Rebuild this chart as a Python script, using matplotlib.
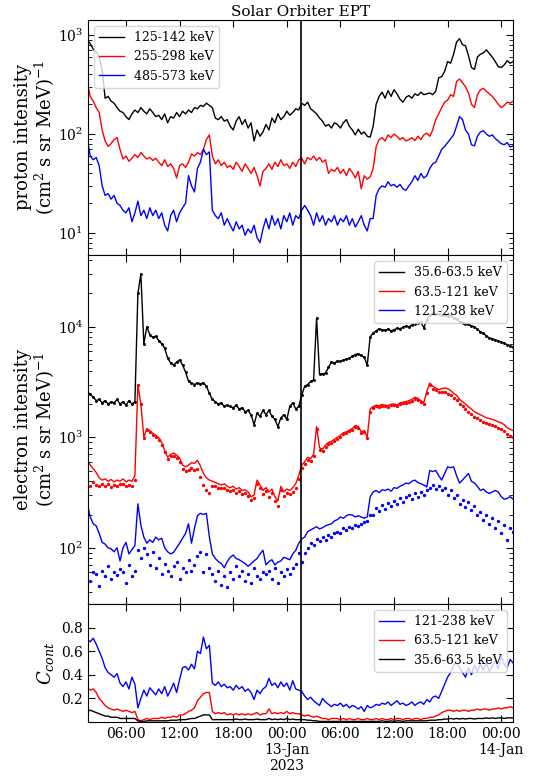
import numpy as np
import matplotlib
matplotlib.use('Agg')
import matplotlib.pyplot as plt
import matplotlib.dates as mdates
from matplotlib.ticker import LogLocator, NullFormatter, FixedLocator

plt.rcParams['font.family'] = 'serif'
plt.rcParams['font.serif'] = ['DejaVu Serif']
plt.rcParams['mathtext.fontset'] = 'dejavuserif'

# ---------------- data (20-min samples starting 2023-01-12 01:40) ----------------
t_start = '2023-01-12T01:40'
t_step_min = 20
event_time = '2023-01-13T01:35'
xlim = ('2023-01-12T01:45', '2023-01-14T01:19')

tick_times = ['2023-01-12T06:00', '2023-01-12T12:00', '2023-01-12T18:00', '2023-01-13T00:00',
              '2023-01-13T06:00', '2023-01-13T12:00', '2023-01-13T18:00', '2023-01-14T00:00']
tick_labels = ['06:00', '12:00', '18:00', '00:00\n13-Jan\n2023',
               '06:00', '12:00', '18:00', '00:00\n14-Jan']

proton_labels = ['125-142 keV', '255-298 keV', '485-573 keV']
electron_labels = ['35.6-63.5 keV', '63.5-121 keV', '121-238 keV']

p125 = [900, 820, 720, 680, 600, 450, 230, 240, 215, 205, 185, 170,
        165, 150, 140, 160, 175, 165, 185, 170, 160, 180, 165, 150,
        155, 140, 160, 130, 150, 145, 165, 150, 170, 160, 175, 165,
        185, 180, 195, 190, 205, 195, 185, 145, 140, 150, 135, 140,
        120, 110, 135, 150, 125, 140, 115, 130, 85, 110, 95, 105,
        125, 110, 145, 130, 160, 140, 150, 170, 155, 165, 180, 175,
        205, 195, 210, 180, 170, 160, 145, 135, 120, 125, 115, 130,
        125, 115, 130, 140, 120, 110, 98, 112, 100, 105, 95, 93,
        120, 200, 240, 265, 230, 275, 240, 280, 255, 225, 210, 235,
        245, 230, 255, 245, 265, 250, 255, 260, 250, 270, 370, 380,
        430, 540, 520, 640, 850, 920, 800, 780, 620, 470, 450, 600,
        640, 660, 710, 650, 600, 540, 480, 470, 500, 550, 520, 540]

p255 = [330, 240, 215, 185, 165, 110, 85, 75, 80, 88, 92, 70,
        56, 60, 53, 57, 62, 58, 65, 60, 56, 58, 54, 57,
        52, 48, 55, 47, 50, 45, 36, 48, 50, 46, 52, 63,
        60, 65, 62, 70, 88, 98, 60, 50, 55, 48, 52, 46,
        48, 44, 52, 47, 42, 50, 45, 40, 46, 38, 30, 42,
        45, 50, 44, 52, 47, 55, 48, 50, 45, 52, 47, 55,
        57, 50, 58, 55, 60, 54, 58, 52, 55, 40, 44, 42,
        46, 40, 44, 38, 45, 41, 36, 42, 28, 38, 35, 37,
        45, 75, 88, 92, 85, 98, 92, 100, 95, 88, 92, 85,
        88, 92, 86, 95, 88, 98, 102, 95, 110, 140, 160, 185,
        210, 220, 250, 240, 340, 360, 330, 300, 260, 200, 185, 250,
        280, 290, 270, 255, 240, 220, 200, 185, 195, 210, 205, 215]

p485 = [90, 60, 55, 58, 48, 30, 24, 25, 22, 24, 20, 19,
        17, 16, 18, 13, 16, 21, 15, 17, 14, 18, 15, 17,
        14, 16, 12, 10.5, 15, 17, 13, 16, 18, 20, 38, 30,
        26, 45, 52, 70, 62, 66, 17, 15, 14, 16, 12, 14,
        12, 10.5, 13, 11, 12, 9.5, 11, 10, 12, 9, 8, 11,
        14, 11, 15, 12, 14, 11, 15, 13, 16, 12, 15, 14,
        17, 19, 17, 15, 12, 16, 13, 15, 12, 14, 13, 15,
        12, 14, 13, 15, 12, 14, 11.5, 13, 15, 12, 10.5, 14,
        14, 24, 28, 30, 29, 33, 30, 31, 29, 31, 28, 27,
        30, 33, 38, 34, 40, 36, 38, 45, 50, 52, 60, 70,
        75, 82, 90, 98, 120, 150, 140, 110, 100, 78, 76, 95,
        105, 108, 100, 95, 98, 90, 85, 80, 78, 82, 74, 76]

e35 = [2600, 2450, 2300, 2150, 2200, 2050, 2150, 2000, 2100, 2050, 2200, 2000,
       2100, 1950, 2150, 2000, 2100, 20000, 30000, 7000, 10000, 8500, 8000, 8200,
       7500, 7000, 6400, 5200, 4700, 4500, 4800, 5000, 4500, 3900, 3200, 3100,
       3000, 3100, 3050, 3100, 2900, 2500, 2200, 2100, 2000, 2050, 1900, 1950,
       1900, 1850, 1950, 1800, 1850, 1700, 1750, 1600, 1300, 1650, 1550, 1750,
       1600, 1750, 1550, 1450, 1250, 1500, 1600, 1450, 1900, 2050, 1800, 1900,
       2400, 2900, 3000, 3200, 3300, 12000, 3700, 3750, 3800, 4300, 4800, 4700,
       4900, 4850, 5000, 5100, 5200, 5400, 5600, 5700, 5500, 5300, 4500, 8100,
       8800, 9200, 9600, 9400, 9300, 9500, 9200, 9400, 9700, 9600, 9900, 10200,
       10000, 10400, 10600, 10800, 11000, 9800, 11500, 12800, 13200, 13000, 13100, 12800,
       12900, 12500, 12700, 12000, 11800, 11000, 10900, 10600, 10500, 10200, 10000, 9500,
       9000, 8700, 8300, 7900, 7800, 7600, 7400, 7300, 7100, 6900, 6700, 6500]

e63 = [620, 560, 520, 480, 430, 410, 420, 400, 415, 395, 410, 400,
       420, 395, 410, 400, 450, 3000, 2000, 1000, 1200, 1150, 1080, 1050,
       990, 900, 760, 660, 700, 720, 690, 650, 560, 540, 560, 590,
       580, 620, 550, 470, 430, 410, 400, 390, 380, 370, 380, 360,
       350, 360, 340, 350, 330, 335, 320, 290, 300, 410, 370, 330,
       350, 320, 340, 290, 265, 360, 320, 340, 330, 350, 380, 450,
       560, 600, 660, 640, 700, 1250, 800, 780, 850, 900, 920, 960,
       1000, 1040, 1100, 1120, 1160, 1200, 1280, 1250, 1120, 1150, 1000, 1800,
       1900, 1950, 1920, 1980, 1950, 1940, 1990, 2000, 1960, 2050, 2080, 2100,
       2150, 2200, 2300, 2250, 2150, 2050, 2600, 3100, 2900, 2800, 2700, 2750,
       2800, 2750, 2650, 2500, 2400, 2200, 2100, 2000, 1880, 1800, 1700, 1650,
       1600, 1550, 1500, 1480, 1450, 1420, 1380, 1350, 1300, 1220, 1180, 1150]

e121 = [250, 190, 165, 158, 135, 112, 108, 100, 98, 92, 100, 76,
        100, 112, 88, 96, 105, 250, 160, 125, 110, 118, 112, 125,
        118, 122, 100, 92, 88, 91, 100, 110, 122, 135, 165, 110,
        150, 195, 205, 200, 205, 125, 88, 80, 75, 72, 66, 75,
        82, 86, 80, 78, 75, 72, 68, 72, 76, 80, 88, 95,
        70, 75, 78, 70, 74, 76, 82, 80, 78, 88, 95, 110,
        120, 125, 140, 145, 150, 155, 148, 152, 158, 162, 165, 175,
        180, 190, 185, 195, 200, 198, 190, 195, 190, 185, 190, 290,
        320, 330, 315, 335, 330, 340, 325, 350, 345, 360, 370, 385,
        380, 400, 410, 390, 380, 370, 355, 500, 490, 500, 450, 410,
        470, 540, 530, 540, 450, 385, 410, 440, 470, 400, 385, 360,
        330, 340, 320, 310, 320, 330, 320, 290, 275, 280, 290, 275]

# contamination-corrected intensities (dots)
e63_corr = [380, 360, 390, 370, 360, 375, 365, 380, 355, 370, 360, 375,
            380, 365, 370, 360, 410, 2950, 1980, 980, 1170, 1120, 1050, 1010,
            950, 860, 730, 630, 670, 680, 650, 600, 520, 500, 510, 530,
            510, 520, 440, 370, 330, 310, 365, 360, 350, 345, 350, 335,
            325, 335, 315, 325, 305, 310, 295, 270, 280, 380, 345, 305,
            325, 290, 315, 265, 240, 330, 295, 310, 305, 320, 350, 420,
            530, 570, 620, 610, 670, 1200, 770, 750, 820, 870, 890, 930,
            970, 1010, 1070, 1090, 1130, 1170, 1250, 1220, 1090, 1120, 980, 1700,
            1850, 1900, 1870, 1930, 1900, 1890, 1940, 1950, 1910, 2000, 2030, 2050,
            2090, 2140, 2230, 2180, 2090, 2000, 2500, 2950, 2750, 2650, 2550, 2550,
            2550, 2480, 2400, 2270, 2160, 1990, 1900, 1800, 1700, 1620, 1530, 1480,
            1440, 1380, 1340, 1330, 1290, 1260, 1220, 1200, 1150, 1080, 1030, 1010]

e121_corr = [65, 50, 60, 58, 45, 62, 55, 68, 52, 60, 57, 64,
             60, 48, 70, 55, 62, 95, 80, 100, 88, 70, 92, 65,
             80, 58, 72, 62, 55, 68, 75, 52, 66, 60, 78, 62,
             70, 85, 92, 60, 88, 65, 58, 50, 62, 46, 55, 44,
             60, 52, 68, 55, 62, 50, 58, 48, 65, 55, 52, 60,
             58, 62, 52, 66, 48, 60, 55, 64, 58, 66, 72, 90,
             75, 90, 100, 110, 105, 120, 115, 125, 118, 130, 125, 135,
             140, 135, 150, 145, 155, 150, 160, 158, 165, 170, 175, 200,
             200, 230, 215, 245, 225, 255, 240, 265, 250, 280, 262, 290,
             300, 275, 310, 290, 320, 300, 330, 350, 370, 340, 360, 330,
             350, 300, 330, 280, 300, 250, 270, 235, 260, 220, 240, 200,
             210, 180, 200, 165, 185, 150, 175, 135, 160, 118, 150, 140]

c121 = [0.70, 0.68, 0.71, 0.66, 0.60, 0.54, 0.46, 0.42, 0.40, 0.38, 0.41, 0.33,
        0.30, 0.34, 0.28, 0.38, 0.32, 0.12, 0.20, 0.27, 0.22, 0.29, 0.26, 0.23,
        0.28, 0.24, 0.30, 0.22, 0.27, 0.33, 0.25, 0.36, 0.46, 0.47, 0.44, 0.49,
        0.45, 0.60, 0.58, 0.72, 0.62, 0.65, 0.33, 0.31, 0.34, 0.30, 0.32, 0.29,
        0.30, 0.27, 0.31, 0.28, 0.30, 0.26, 0.28, 0.25, 0.19, 0.27, 0.24, 0.28,
        0.30, 0.37, 0.31, 0.33, 0.29, 0.34, 0.30, 0.33, 0.27, 0.35, 0.28, 0.27,
        0.26, 0.22, 0.19, 0.21, 0.18, 0.16, 0.14, 0.20, 0.17, 0.15, 0.13, 0.15,
        0.14, 0.16, 0.13, 0.15, 0.12, 0.14, 0.13, 0.11, 0.13, 0.09, 0.14, 0.12,
        0.13, 0.15, 0.14, 0.16, 0.15, 0.17, 0.14, 0.16, 0.18, 0.15, 0.16, 0.14,
        0.15, 0.17, 0.14, 0.16, 0.17, 0.15, 0.19, 0.17, 0.21, 0.22, 0.20, 0.26,
        0.32, 0.38, 0.42, 0.48, 0.50, 0.46, 0.42, 0.38, 0.46, 0.40, 0.48, 0.43,
        0.49, 0.44, 0.50, 0.43, 0.47, 0.52, 0.45, 0.56, 0.49, 0.46, 0.53, 0.50]

c63 = [0.29, 0.27, 0.28, 0.25, 0.20, 0.17, 0.14, 0.12, 0.11, 0.10, 0.11, 0.10,
       0.09, 0.10, 0.09, 0.08, 0.09, 0.02, 0.01, 0.02, 0.03, 0.02, 0.03, 0.03,
       0.03, 0.04, 0.03, 0.04, 0.04, 0.05, 0.04, 0.06, 0.06, 0.07, 0.09, 0.10,
       0.12, 0.18, 0.21, 0.24, 0.25, 0.25, 0.09, 0.07, 0.08, 0.07, 0.08, 0.06,
       0.07, 0.06, 0.07, 0.06, 0.07, 0.06, 0.07, 0.06, 0.07, 0.08, 0.06, 0.07,
       0.07, 0.11, 0.07, 0.08, 0.07, 0.08, 0.07, 0.09, 0.07, 0.08, 0.07, 0.07,
       0.06, 0.05, 0.06, 0.05, 0.04, 0.05, 0.04, 0.03, 0.03, 0.02, 0.03, 0.03,
       0.03, 0.02, 0.03, 0.02, 0.03, 0.02, 0.02, 0.03, 0.02, 0.02, 0.03, 0.02,
       0.02, 0.03, 0.02, 0.03, 0.02, 0.02, 0.03, 0.02, 0.03, 0.03, 0.02, 0.03,
       0.03, 0.02, 0.03, 0.03, 0.02, 0.03, 0.03, 0.04, 0.04, 0.05, 0.06, 0.08,
       0.09, 0.10, 0.10, 0.09, 0.10, 0.09, 0.10, 0.10, 0.09, 0.10, 0.10, 0.11,
       0.10, 0.11, 0.11, 0.10, 0.11, 0.11, 0.12, 0.11, 0.12, 0.12, 0.13, 0.12]

c35 = [0.09, 0.10, 0.09, 0.08, 0.07, 0.06, 0.05, 0.05, 0.04, 0.04, 0.04, 0.03,
       0.03, 0.03, 0.03, 0.03, 0.03, 0.01, 0.005, 0.005, 0.01, 0.01, 0.01, 0.01,
       0.01, 0.01, 0.01, 0.01, 0.015, 0.015, 0.015, 0.02, 0.02, 0.02, 0.025, 0.03,
       0.03, 0.04, 0.05, 0.06, 0.06, 0.06, 0.02, 0.02, 0.02, 0.02, 0.02, 0.02,
       0.02, 0.02, 0.025, 0.02, 0.02, 0.025, 0.02, 0.02, 0.02, 0.025, 0.02, 0.02,
       0.02, 0.03, 0.02, 0.025, 0.02, 0.025, 0.02, 0.03, 0.02, 0.025, 0.02, 0.02,
       0.02, 0.02, 0.015, 0.015, 0.01, 0.01, 0.005, 0.005, 0.005, 0.005, 0.005, 0.005,
       0.005, 0.005, 0.005, 0.005, 0.005, 0.005, 0.005, 0.005, 0.005, 0.005, 0.005, 0.005,
       0.005, 0.005, 0.005, 0.01, 0.005, 0.005, 0.01, 0.005, 0.01, 0.01, 0.005, 0.01,
       0.01, 0.01, 0.01, 0.01, 0.01, 0.01, 0.01, 0.015, 0.015, 0.015, 0.02, 0.02,
       0.025, 0.025, 0.03, 0.025, 0.03, 0.025, 0.03, 0.025, 0.03, 0.03, 0.025, 0.03,
       0.03, 0.03, 0.035, 0.03, 0.035, 0.03, 0.035, 0.035, 0.03, 0.035, 0.035, 0.035]

# ---------------- figure ----------------
n = len(p125)
t = np.datetime64(t_start) + np.arange(n) * np.timedelta64(t_step_min, 'm')
t_ev = np.datetime64(event_time)

fig = plt.figure(figsize=(5.34, 7.78), dpi=100)
L, W = 88 / 534, 425 / 534
def fy(top, bot):
    return [L, 1 - bot / 778, W, (bot - top) / 778]

ax1 = fig.add_axes(fy(20, 255))
ax2 = fig.add_axes(fy(255, 604))
ax3 = fig.add_axes(fy(604, 722))

lw = 1.0
ax1.plot(t, p125, color='k', lw=lw, label=proton_labels[0])
ax1.plot(t, p255, color='r', lw=lw, label=proton_labels[1])
ax1.plot(t, p485, color='b', lw=lw, label=proton_labels[2])
ax1.set_yscale('log')
ax1.set_ylim(6, 1420)
ax1.set_ylabel('proton intensity\n(cm$^2$ s sr MeV)$^{-1}$', fontsize=13,
               labelpad=0.5, linespacing=1.05)
ax1.set_title('Solar Orbiter EPT', fontsize=11, pad=3)
ax1.legend(loc='upper left', fontsize=9)

ax2.plot(t, e35, color='k', lw=lw, label=electron_labels[0])
ax2.plot(t, e35, ls='none', marker='.', ms=2.2, color='k')
ax2.plot(t, e63, color='r', lw=lw, label=electron_labels[1])
ax2.plot(t, e63_corr, ls='none', marker='.', ms=2.8, color='r')
ax2.plot(t, e121, color='b', lw=lw, label=electron_labels[2])
ax2.plot(t, e121_corr, ls='none', marker='.', ms=2.8, color='b')
ax2.set_yscale('log')
ax2.set_ylim(31, 44600)
ax2.set_ylabel('electron intensity\n(cm$^2$ s sr MeV)$^{-1}$', fontsize=13,
               labelpad=0.5, linespacing=1.05)
ax2.legend(loc='upper right', fontsize=9)

ax3.plot(t, c121, color='b', lw=lw, label=electron_labels[2])
ax3.plot(t, c63, color='r', lw=lw, label=electron_labels[1])
ax3.plot(t, c35, color='k', lw=lw, label=electron_labels[0])
ax3.set_ylim(0, 1.0)
ax3.set_yticks([0.2, 0.4, 0.6, 0.8])
ax3.set_ylabel('$C_{cont}$', fontsize=13)
ax3.legend(loc='upper right', fontsize=9)

xt = mdates.date2num(np.array(tick_times, dtype='datetime64[m]'))
xl = mdates.date2num(np.array(xlim, dtype='datetime64[m]'))
for ax in (ax1, ax2, ax3):
    ax.axvline(t_ev, color='k', lw=1.2)
    ax.set_xlim(xl)
    ax.xaxis.set_major_locator(FixedLocator(xt))
    ax.tick_params(which='both', direction='in', top=True, right=True, labelsize=10)
    ax.tick_params(which='major', length=5)
    ax.tick_params(which='minor', length=3)
    if ax is not ax3:
        ax.set_xticklabels([])
        ax.yaxis.set_minor_locator(LogLocator(base=10, subs=np.arange(2, 10), numticks=20))
        ax.yaxis.set_minor_formatter(NullFormatter())
ax3.set_xticklabels(tick_labels)

fig.savefig('out.png', dpi=100)
